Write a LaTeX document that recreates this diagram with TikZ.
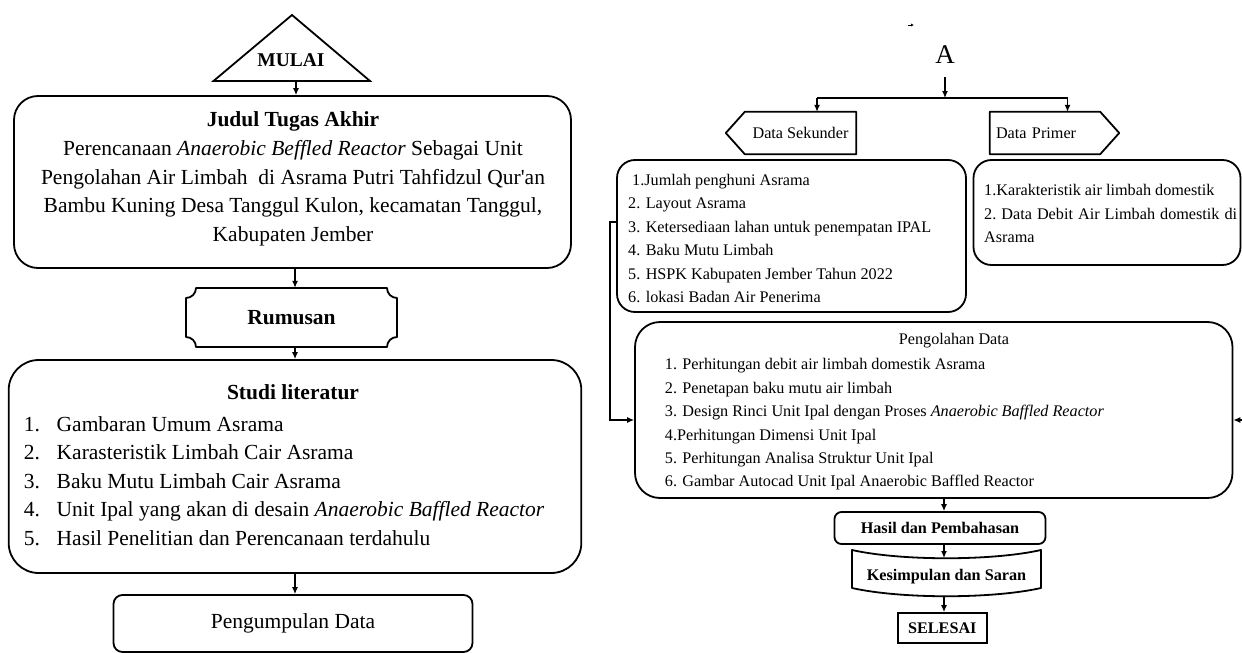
\documentclass[tikz,border=0pt]{standalone}
\usepackage{fontspec}
\setmainfont{Liberation Serif}
\usetikzlibrary{arrows.meta}
\begin{document}
\begin{tikzpicture}[x=1pt,y=-1pt,
 box/.style={draw, line width=1.8pt, rounded corners=#1, inner sep=0pt},
 box/.default=20pt,
 shp/.style={line width=1.8pt, line join=round},
 arr/.style={-{Latex[length=7pt,width=6pt]}, line width=1.2pt},
 ln/.style={line width=1.2pt},
 big/.style={font=\fontsize{21.5}{28.6}\selectfont, inner sep=0pt},
 bigb/.style={font=\fontsize{21.5}{24}\selectfont\bfseries, inner sep=0pt},
 sm/.style={font=\fontsize{16.2}{23.4}\selectfont, inner sep=0pt},
 smb/.style={font=\fontsize{16.2}{18}\selectfont\bfseries, inner sep=0pt},
]
\useasboundingbox (0,0) rectangle (1242,653);
\coordinate (lc) at (295,0);
\coordinate (rc) at (944,0);

% ---------- left column ----------
\draw[shp, line join=miter] (213.5,81) -- (292,15) -- (370,81) -- cycle;
\node[font=\fontsize{19.5}{22}\selectfont\bfseries] (mulai) at (291,60) {MULAI};
\coordinate (mulaib) at (296,81);

\node[box=24pt, minimum width=557, minimum height=172] (judul) at (292.5,182) {};
\node[big, align=center] (judultxt) at (293,179) {\textbf{Judul Tugas Akhir}\\
Perencanaan \textit{Anaerobic Beffled Reactor} Sebagai Unit\\
Pengolahan Air Limbah\ \ di Asrama Putri Tahfidzul Qur\textquotesingle an\\
Bambu Kuning Desa Tanggul Kulon, kecamatan Tanggul,\\
Kabupaten Jember};

\node[bigb, minimum width=211, minimum height=59] (rumusan) at (291.5,317.5) {Rumusan};
\draw[shp] (196,288) -- (387,288) .. controls (387,293.5) and (391.5,298) .. (397,298)
  -- (397,337) .. controls (391.5,337) and (387,341.5) .. (387,347)
  -- (196,347) .. controls (196,341.5) and (191.5,337) .. (186,337)
  -- (186,298) .. controls (191.5,298) and (196,293.5) .. (196,288) -- cycle;

\node[box=30pt, minimum width=572.6, minimum height=213] (studi) at (295,466.5) {};
\node[bigb] (stuttl) at (293,392) {Studi literatur};
\node[big, align=left, anchor=west] (stulist) at (23.7,481) {%
\makebox[32.8pt][l]{1.}Gambaran Umum Asrama\\
\makebox[32.8pt][l]{2.}Karasteristik Limbah Cair Asrama\\
\makebox[32.8pt][l]{3.}Baku Mutu Limbah Cair Asrama\\
\makebox[32.8pt][l]{4.}Unit Ipal yang akan di desain \textit{Anaerobic Baffled Reactor}\\
\makebox[32.8pt][l]{5.}Hasil Penelitian dan Perencanaan terdahulu};

\node[box=9pt, minimum width=359, minimum height=57, font=\fontsize{21.5}{24}\selectfont] (kumpul) at (293,623.5) {Pengumpulan Data};

\draw[arr] (mulaib) -- (judul.north -| mulaib);
\draw[arr] (judul.south -| lc) -- (rumusan.north -| lc);
\draw[arr] (rumusan.south -| lc) -- (studi.north -| lc);
\draw[arr] (studi.south -| lc) -- (kumpul.north -| lc);

% ---------- right column ----------
\coordinate (m1) at (908,25); \coordinate (m2) at (914,25);
\draw[-{Latex[length=3pt,width=3pt]}, line width=0.6pt] (m1) -- (m2);

\node[font=\fontsize{27}{30}\selectfont] (A) at (945,55) {A};
\coordinate (j) at (945,98);
\coordinate (jl) at (817,98);
\coordinate (jr) at (1067.5,98);

\node[sm, minimum width=111, minimum height=42] (sek) at (800.5,133) {Data Sekunder};
\draw[shp] (sek.north west) -- (sek.north east) -- (sek.south east) -- (sek.south west) -- ([xshift=-19pt]sek.west) -- cycle;
\node[sm, minimum width=110, minimum height=42, text width=98pt, align=left] (prim) at (1045,133) {Data Primer};
\draw[shp] (prim.north west) -- (prim.north east) -- ([xshift=19pt]prim.east) -- (prim.south east) -- (prim.south west) -- cycle;

\draw[arr] ([yshift=-10pt]A.south) -- (j);
\draw[ln] (jl) -- (jr);
\draw[arr] (jl) -- (jl |- sek.north);
\draw[arr] (jr) -- (jr |- prim.north);

\node[box=18pt, minimum width=349, minimum height=152] (seklist) at (791.5,236) {};
\node[sm, align=left, anchor=west] (seklisttxt) at (628,238.5) {\hspace{4pt}1.Jumlah penghuni Asrama\\
2. Layout Asrama\\
3. Ketersediaan lahan untuk penempatan IPAL\\
4. Baku Mutu Limbah\\
5. HSPK Kabupaten Jember Tahun 2022\\
6. lokasi Badan Air Penerima};

\node[box=18pt, minimum width=267, minimum height=105] (primlist) at (1107,212.5) {};
\node[sm, align=left, anchor=west] (primlisttxt) at (984,213.5) {1.Karakteristik air limbah domestik\\
\makebox[253pt][s]{2.\ Data Debit Air Limbah domestik di}\\
Asrama};

\node[box=25pt, minimum width=597.5, minimum height=176] (peng) at (933.75,410) {};
\node[sm] (pengttl) at (954,341) {Pengolahan Data};
\node[sm, align=left, anchor=west] (penglist) at (664.7,424.5) {1. Perhitungan debit air limbah domestik Asrama\\
2. Penetapan baku mutu air limbah\\
3. Design Rinci Unit Ipal dengan Proses \textit{Anaerobic Baffled Reactor}\\
4.Perhitungan Dimensi Unit Ipal\\
5. Perhitungan Analisa Struktur Unit Ipal\\
6. Gambar Autocad Unit Ipal Anaerobic Baffled Reactor};

\coordinate (fb) at (617,222);
\coordinate (rin) at (1242,420);
\draw[arr] (fb) -- ++(-7,0) |- (peng.west |- rin);
\draw[arr] (rin) -- (peng.east |- rin);

\node[box=7pt, minimum width=211, minimum height=32, smb] (hasil) at (940,528) {Hasil dan Pembahasan};

\node[smb] (kes) at (946.5,577) {Kesimpulan dan Saran};
\coordinate (kestop) at (944,558);
\coordinate (kesbot) at (944,596);
\draw[shp] (852,550) .. controls (901,561) and (992,561) .. (1041,550) -- (1041,588)
  .. controls (992,599) and (901,599) .. (852,588) -- cycle;

\node[draw, line width=1.8pt, minimum width=89, minimum height=30, inner sep=0pt, smb] (selesai) at (942.3,628) {SELESAI};

\draw[arr] (peng.south -| rc) -- (hasil.north -| rc);
\draw[arr] (hasil.south -| rc) -- (kestop);
\draw[arr] (kesbot) -- (selesai.north -| rc);
\end{tikzpicture}
\end{document}
